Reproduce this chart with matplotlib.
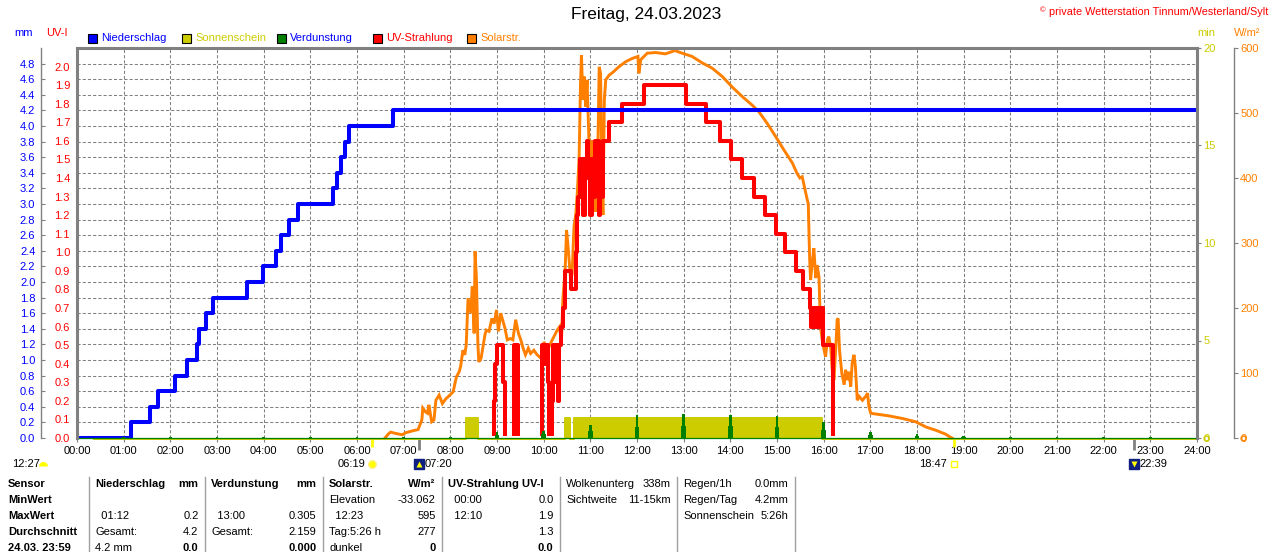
import matplotlib
matplotlib.use("Agg")
import matplotlib.pyplot as plt
import matplotlib.transforms as mtransforms
from matplotlib.patches import Rectangle
from matplotlib.lines import Line2D
import numpy as np

plt.rcParams['font.family'] = ['Liberation Sans', 'DejaVu Sans']
plt.rcParams['font.size'] = 8

# ---------------- data ----------------
title = "Freitag, 24.03.2023"
copyright_text = "private Wetterstation Tinnum/Westerland/Sylt"
hour_labels = [f"{h:02d}:00" for h in range(25)]

# cumulative precipitation (mm), step series
rain_t = [0, 1.16, 1.56, 1.74, 2.11, 2.35, 2.57, 2.62, 2.77, 2.92, 3.65, 3.99, 4.27,
          4.38, 4.54, 4.74, 5.49, 5.58, 5.65, 5.74, 5.83, 6.78, 24]
rain_mm = [0, 0.2, 0.4, 0.6, 0.8, 1.0, 1.2, 1.4, 1.6, 1.8, 2.0, 2.2, 2.4,
           2.6, 2.8, 3.0, 3.2, 3.4, 3.6, 3.8, 4.0, 4.2, 4.2]

# evaporation per hour (mm)
evap_hours = list(range(25))
evap_mm = [0.01, 0.01, 0.01, 0.01, 0.01, 0.01, 0.01, 0.01, 0.01, 0.08, 0.09, 0.17, 0.29,
           0.305, 0.30, 0.28, 0.21, 0.08, 0.05, 0.025, 0.01, 0.01, 0.01, 0.01, 0.01]

# sunshine (min), step series
sun_t = [0.37, 8.34, 8.59, 10.45, 10.56, 10.65, 15.96, 24]
sun_min = [0, 1.1, 0, 1.1, 0, 1.1, 0, 0]

# UV index, step series
uv_t = [0, 8.94, 8.96, 9.01, 9.12, 9.18, 9.36, 9.46, 9.97, 10.02, 10.05, 10.09, 10.11,
        10.18, 10.21, 10.25, 10.28, 10.31, 10.33, 10.38, 10.41, 10.45, 10.59, 10.69,
        10.71, 10.74, 10.77, 10.80, 10.82, 10.85, 10.88, 10.90, 10.93, 10.96, 10.99,
        11.03, 11.06, 11.09, 11.12, 11.15, 11.18, 11.21, 11.24, 11.27, 11.39, 11.67,
        12.15, 13.06, 13.47, 13.77, 14.02, 14.26, 14.51, 14.75, 14.98, 15.18, 15.40,
        15.56, 15.70, 15.73, 15.76, 15.79, 15.82, 15.85, 15.88, 15.91, 15.94, 15.98,
        16.19, 24]
uv_index = [0, 0.2, 0.4, 0.5, 0.3, 0.0, 0.5, 0.0, 0.5, 0.4, 0.5, 0.3, 0.0,
            0.2, 0.5, 0.3, 0.5, 0.2, 0.5, 0.6, 0.7, 0.9, 0.8, 1.0,
            1.2, 1.3, 1.5, 1.3, 1.5, 1.2, 1.5, 1.4, 1.6, 1.5, 1.2,
            1.5, 1.3, 1.6, 1.4, 1.6, 1.2, 1.5, 1.3, 1.6, 1.7, 1.8,
            1.9, 1.8, 1.7, 1.6, 1.5, 1.4, 1.3, 1.2, 1.1, 1.0, 0.9,
            0.8, 0.7, 0.6, 0.7, 0.6, 0.7, 0.6, 0.7, 0.6, 0.7, 0.5,
            0.0, 0.0]

# solar radiation (W/m2)
solar_t = [6.60, 6.67, 6.72, 6.83, 6.97, 7.04, 7.19, 7.31, 7.39, 7.41, 7.47, 7.51, 7.54,
           7.60, 7.65, 7.69, 7.76, 7.83, 7.90, 7.99, 8.06, 8.13, 8.19, 8.22, 8.27, 8.31,
           8.34, 8.38, 8.44, 8.47, 8.51, 8.53, 8.56, 8.59, 8.61, 8.66, 8.70, 8.74, 8.77,
           8.83, 8.89, 8.94, 8.99, 9.03, 9.08, 9.13, 9.17, 9.22, 9.29, 9.34, 9.40, 9.46,
           9.51, 9.56, 9.61, 9.67, 9.72, 9.79, 9.86, 9.94, 10.01, 10.04, 10.08, 10.15,
           10.22, 10.29, 10.34, 10.38, 10.41, 10.46, 10.49, 10.51, 10.54, 10.58, 10.61,
           10.65, 10.69, 10.72, 10.76, 10.79, 10.81, 10.84, 10.87, 10.90, 10.93, 10.97,
           11.01, 11.04, 11.08, 11.11, 11.15, 11.19, 11.22, 11.24, 11.27, 11.30, 11.33,
           11.40, 11.49, 11.61, 11.76, 11.90, 12.02, 12.04, 12.08, 12.22, 12.40, 12.61,
           12.81, 13.01, 13.18, 13.40, 13.61, 13.83, 14.04, 14.26, 14.47, 14.61, 14.79,
           14.97, 15.15, 15.33, 15.43, 15.49, 15.54, 15.60, 15.65, 15.67, 15.70, 15.72,
           15.76, 15.79, 15.83, 15.86, 15.90, 15.92, 15.94, 15.97, 16.01, 16.04, 16.08,
           16.11, 16.15, 16.19, 16.22, 16.26, 16.29, 16.31, 16.34, 16.39, 16.44, 16.47,
           16.51, 16.54, 16.58, 16.61, 16.65, 16.68, 16.72, 16.76, 16.83, 16.90, 16.94,
           16.97, 17.01, 17.11, 17.40, 17.69, 17.97, 18.19, 18.40, 18.61, 18.72, 18.75]
solar_wm2 = [0, 6, 9, 7, 5, 8, 11, 13, 28, 46, 40, 38, 51,
             25, 28, 58, 66, 53, 60, 66, 71, 94, 102, 110, 135, 128,
             143, 215, 192, 233, 161, 287, 243, 146, 117, 123, 140, 158, 166,
             164, 184, 176, 197, 164, 192, 179, 169, 151, 153, 151, 182, 161,
             151, 138, 128, 138, 130, 135, 128, 123, 148, 135, 135, 146,
             156, 166, 171, 146, 212, 258, 320, 305, 279, 243, 253,
             325, 346, 376, 433, 546, 589, 520, 556, 510, 551, 458,
             356, 458, 387, 348, 397, 571, 561, 433, 343, 520, 551,
             558, 563, 571, 579, 584, 587, 561, 582, 592, 593, 591,
             596, 591, 587, 577, 569, 556, 540, 525, 512, 502, 484,
             464, 443, 423, 407, 400, 402, 382, 366, 361, 274, 243,
             274, 292, 246, 266, 248, 197, 166, 151, 135, 125, 151,
             156, 140, 99, 89, 140, 182, 184, 135, 99, 82, 105,
             89, 102, 79, 115, 128, 110, 58, 64, 58, 64, 69,
             48, 38, 37, 34, 30, 25, 17, 12, 6, 1, 0]

mm_ticks = [round(0.2 * i, 1) for i in range(25)]
uv_ticks = [round(0.1 * i, 1) for i in range(21)]
min_ticks = [0, 5, 10, 15, 20]
wm2_ticks = [0, 100, 200, 300, 400, 500, 600]

sun_event_t = [6.317, 18.783]
sun_event_lbl = ["06:19", "18:47"]
moon_event_t = [7.333, 22.65]
moon_event_lbl = ["07:20", "22:39"]
day_length = "12:27"
sunshine_now = 0
solar_now = 0

legend_labels = ["Niederschlag", "Sonnenschein", "Verdunstung", "UV-Strahlung", "Solarstr."]

tab_sensor = ["Sensor", "MinWert", "MaxWert", "Durchschnitt", "24.03. 23:59"]
tab_nieder = [("Niederschlag", "mm"), ("", ""), ("  01:12", "0.2"), ("Gesamt:", "4.2"), ("4.2 mm", "0.0")]
tab_verd = [("Verdunstung", "mm"), ("", ""), ("  13:00", "0.305"), ("Gesamt:", "2.159"), ("", "0.000")]
tab_solar = [("Solarstr.", "W/m²"), ("Elevation", "-33.062"), ("  12:23", "595"), ("Tag:5:26 h", "277"), ("dunkel", "0")]
tab_uv = [("UV-Strahlung UV-I", ""), ("  00:00", "0.0"), ("  12:10", "1.9"), ("", "1.3"), ("", "0.0")]
tab_cloud = [("Wolkenunterg", "338m"), ("Sichtweite", "11-15km")]
tab_rain = [("Regen/1h", "0.0mm"), ("Regen/Tag", "4.2mm"), ("Sonnenschein", "5:26h")]

# ---------------- style ----------------
BLUE = '#0000ff'
RED = '#ff0000'
ORANGE = '#ff8000'
YEL = '#cccc00'
GREEN = '#008000'
GRAY = '#808080'

W, H = 1280, 552
fig = plt.figure(figsize=(W / 100, H / 100), dpi=100)
fig.patch.set_facecolor('white')
L, R, T, B = 77, 1197, 48, 438
pos = [L / W, 1 - B / H, (R - L) / W, (B - T) / H]


def fx(x):
    return x / W


def fy(y):
    return 1 - y / H


# base axis: mm scale + grid + x labels
ax = fig.add_axes(pos)
ax.set_xlim(0, 24)
ax.set_ylim(0, 5.0)
ax.set_xticks(range(25))
ax.set_xticklabels(hour_labels)
ax.set_yticks(mm_ticks)
ax.set_yticklabels([f"{v:.1f}" for v in mm_ticks])
ax.grid(True, color=GRAY, lw=0.75, ls=(0, (3, 2)))
ax.set_axisbelow(True)
for s in ['top', 'right', 'bottom']:
    ax.spines[s].set_visible(False)
ax.spines['left'].set_position(('outward', 26))
ax.spines['left'].set_color(GRAY)
ax.spines['left'].set_linewidth(1.0)
ax.tick_params(axis='y', direction='in', length=3, color=GRAY, labelcolor=BLUE,
               pad=4, labelsize=8)
ax.tick_params(axis='x', direction='out', length=3, color=GRAY, labelcolor='black',
               pad=3, labelsize=8)

# solar radiation axis
ax_sol = fig.add_axes(pos, sharex=ax)
ax_sol.patch.set_visible(False)
ax_sol.set_ylim(0, 600)
ax_sol.plot(solar_t, solar_wm2, color=ORANGE, lw=2.1, solid_joinstyle='miter')
ax_sol.yaxis.tick_right()
ax_sol.set_yticks(wm2_ticks)
ax_sol.tick_params(axis='y', direction='out', length=3, color=GRAY, labelcolor=ORANGE,
                   pad=1.5, labelsize=8)
ax_sol.tick_params(axis='x', bottom=False, labelbottom=False)
for s in ['top', 'left', 'bottom']:
    ax_sol.spines[s].set_visible(False)
ax_sol.spines['right'].set_position(('outward', 26.6))
ax_sol.spines['right'].set_color(GRAY)
ax_sol.spines['right'].set_linewidth(1.0)
ax_sol.plot([1.041], [solar_now], transform=ax_sol.get_yaxis_transform(), marker='o',
            ms=3.5, mfc='none', mec=ORANGE, mew=1, clip_on=False)

# UV axis
ax_uv = fig.add_axes(pos, sharex=ax)
ax_uv.patch.set_visible(False)
ax_uv.set_ylim(0, 2.1)
uv_lines = ax_uv.step(uv_t, uv_index, where='post', color=RED, lw=2.9)
uv_clip = Rectangle((0, 2.2 / 390), 1, 1, transform=ax_uv.transAxes)
for ln in uv_lines:
    ln.set_clip_path(uv_clip)
ax_uv.set_yticks(uv_ticks)
ax_uv.set_yticklabels([f"{v:.1f}" for v in uv_ticks])
ax_uv.tick_params(axis='y', length=0, labelcolor=RED, pad=5, labelsize=8)
ax_uv.tick_params(axis='x', bottom=False, labelbottom=False)
for s in ax_uv.spines.values():
    s.set_visible(False)

# rain axis (shares mm scale)
ax_top = fig.add_axes(pos, sharex=ax, sharey=ax)
ax_top.step(rain_t, rain_mm, where='post', color=BLUE, lw=2.9)
ax_top.axis('off')

# sunshine axis
ax_sun = fig.add_axes(pos, sharex=ax)
ax_sun.patch.set_visible(False)
ax_sun.set_ylim(0, 20)
ax_sun.fill_between(sun_t, sun_min, step='post', color=YEL, lw=0)
sun_off = mtransforms.offset_copy(ax_sun.transData, fig=fig, x=0, y=-1.4, units='dots')
ax_sun.step(sun_t, sun_min, where='post', color=YEL, lw=1.4, transform=sun_off,
            clip_on=False)
ax_sun.yaxis.tick_right()
ax_sun.set_yticks(min_ticks)
ax_sun.tick_params(axis='y', direction='out', length=3, color=GRAY, labelcolor=YEL,
                   pad=1.5, labelsize=8)
ax_sun.tick_params(axis='x', bottom=False, labelbottom=False)
for s in ax_sun.spines.values():
    s.set_visible(False)
ax_sun.plot([1.008], [sunshine_now], transform=ax_sun.get_yaxis_transform(), marker='o',
            ms=3.5, mfc='none', mec=YEL, mew=1, clip_on=False)

# evaporation axis (mm scale) + frame
ax_ev = fig.add_axes(pos, sharex=ax, sharey=ax)
ax_ev.patch.set_visible(False)
ev = np.array(evap_mm)
ax_ev.plot([0, 24], [0, 0], color=GREEN, lw=0.9, clip_on=False)
ax_ev.bar(evap_hours, ev, width=0.055, color=GREEN, lw=0)
ax_ev.bar(evap_hours, ev * 0.5, width=0.1, color=GREEN, lw=0)
ax_ev.tick_params(which='both', bottom=False, labelbottom=False, left=False, labelleft=False)
for s in ['left', 'top', 'right']:
    ax_ev.spines[s].set_color(GRAY)
    ax_ev.spines[s].set_linewidth(2.2)
ax_ev.spines['bottom'].set_visible(False)

# sun / moon events below the time axis
xt = ax.get_xaxis_transform()
ylab = -26 / 390
for t in sun_event_t:
    ax.vlines(t, -0.024, 0, transform=xt, colors='#ffff00', lw=2, clip_on=False)
for t in moon_event_t:
    ax.vlines(t, -0.03, 0, transform=xt, colors=GRAY, lw=2, clip_on=False)

# sunrise
ax.plot(sun_event_t[0], ylab, transform=xt, marker='o', ms=5.5, mfc='#ffff00',
        mec='#ffee88', mew=1, clip_on=False)
ax.annotate(sun_event_lbl[0], xy=(sun_event_t[0], ylab), xycoords=xt, xytext=(-4.5, 0),
            textcoords='offset points', ha='right', va='center', fontsize=8)
# sunset
ax.plot(sun_event_t[1], ylab, transform=xt, marker='s', ms=4, mfc='none',
        mec='#ffff00', mew=1, clip_on=False)
ax.annotate(sun_event_lbl[1], xy=(sun_event_t[1], ylab), xycoords=xt, xytext=(-5, 0),
            textcoords='offset points', ha='right', va='center', fontsize=8)
# moonrise / moonset
for t, lbl, mk in zip(moon_event_t, moon_event_lbl, ['^', 'v']):
    ax.plot(t, ylab, transform=xt, marker='s', ms=7, mfc='#102080', mec='#102080',
            clip_on=False)
    ax.plot(t, ylab, transform=xt, marker=mk, ms=4, mfc='#ffff00', mec='none',
            clip_on=False)
    ax.annotate(lbl, xy=(t, ylab), xycoords=xt, xytext=(4, 0),
                textcoords='offset points', ha='left', va='center', fontsize=8)

# day length at left
fig.text(fx(12), fy(464), day_length, ha='left', va='center', fontsize=8)
fig.add_artist(Line2D([fx(43)], [fy(466)], marker='o', ms=6.5, fillstyle='top',
                      mfc='#ffff00', mfcalt='none', mec='none', transform=fig.transFigure))

# ---------------- header ----------------
fig.text(fx(646), fy(15), title, ha='center', va='center', fontsize=12.5, color='black')
fig.text(fx(1268), fy(12), copyright_text, ha='right', va='center', fontsize=7.8, color=RED)
fig.text(fx(1046), fy(11), "©", ha='right', va='center', fontsize=5.5, color=RED)

fig.text(fx(14), fy(33), "mm", ha='left', va='center', fontsize=8, color=BLUE)
fig.text(fx(46), fy(33), "UV-I", ha='left', va='center', fontsize=8, color=RED)
fig.text(fx(1197), fy(33), "min", ha='left', va='center', fontsize=8, color=YEL)
fig.text(fx(1234), fy(33), "W/m²", ha='left', va='center', fontsize=8, color=ORANGE)

leg_sq_x = [88, 182, 277, 373, 467]
leg_fill = [BLUE, YEL, GREEN, RED, ORANGE]
leg_txt_col = [BLUE, YEL, BLUE, RED, ORANGE]
for x0, lbl, fc, tc in zip(leg_sq_x, legend_labels, leg_fill, leg_txt_col):
    fig.add_artist(Rectangle((fx(x0), fy(43)), 9 / W, 9 / H, transform=fig.transFigure,
                             fc=fc, ec='black', lw=0.8))
    fig.text(fx(x0 + 13), fy(38), lbl, ha='left', va='center', fontsize=8, color=tc)

# ---------------- table ----------------
row_y = [484, 500, 516, 532, 548]
seps = [89, 205, 323, 442, 560, 677, 795]
for x in seps:
    fig.add_artist(Line2D([fx(x), fx(x)], [fy(477), fy(552)], color='#a0a0a0', lw=1,
                          transform=fig.transFigure))

for y, s in zip(row_y, tab_sensor):
    fig.text(fx(8), fy(y), s, ha='left', va='center', fontsize=8, fontweight='bold')

main_tabs = [tab_nieder, tab_verd, tab_solar, tab_uv]
for ci, tab in enumerate(main_tabs):
    xl = seps[ci] + 6
    xr = seps[ci + 1] - 6.5
    for ri, (lt, rt) in enumerate(tab):
        bold_l = ri == 0
        bold_r = ri == 0 or ri == 4
        fig.text(fx(xl), fy(row_y[ri]), lt, ha='left', va='center', fontsize=8,
                 fontweight='bold' if bold_l else 'normal')
        fig.text(fx(xr), fy(row_y[ri]), rt, ha='right', va='center', fontsize=8,
                 fontweight='bold' if bold_r else 'normal')

for ci, tab in [(4, tab_cloud), (5, tab_rain)]:
    xl = seps[ci] + 6
    xr = seps[ci + 1] - 6.5
    for ri, (lt, rt) in enumerate(tab):
        fig.text(fx(xl), fy(row_y[ri]), lt, ha='left', va='center', fontsize=8)
        fig.text(fx(xr), fy(row_y[ri]), rt, ha='right', va='center', fontsize=8)

fig.savefig("out.png", dpi=100, facecolor='white')
